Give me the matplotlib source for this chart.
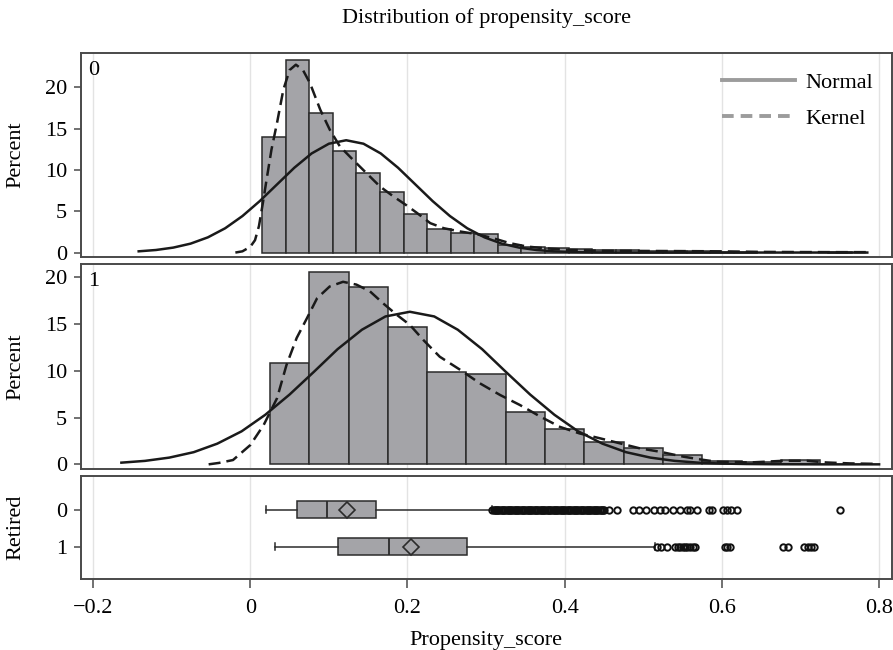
import matplotlib
matplotlib.use("Agg")
import matplotlib.pyplot as plt
from matplotlib.lines import Line2D

plt.rcParams['font.family'] = ['Liberation Serif', 'DejaVu Serif']
FS = 16
plt.rcParams['font.size'] = FS

# ---- Histogram, Retired = 0 (bin width 0.03) ----
bins0_mid = [0.03, 0.06, 0.09, 0.12, 0.15, 0.18, 0.21, 0.24, 0.27, 0.30, 0.33, 0.36,
             0.39, 0.42, 0.45, 0.48, 0.51, 0.54, 0.57, 0.60, 0.63, 0.75]
pct0 = [14.0, 23.35, 16.9, 12.3, 9.6, 7.3, 4.65, 2.87, 2.4, 2.25, 0.93, 0.73,
        0.5, 0.4, 0.3, 0.25, 0.2, 0.2, 0.15, 0.12, 0.05, 0.03]
width0 = 0.03

# ---- Histogram, Retired = 1 (bin width 0.05) ----
bins1_mid = [0.05, 0.10, 0.15, 0.20, 0.25, 0.30, 0.35, 0.40, 0.45, 0.50, 0.55, 0.60, 0.65, 0.70]
pct1 = [10.8, 20.6, 18.95, 14.7, 9.9, 9.6, 5.56, 3.74, 2.4, 1.7, 1.0, 0.35, 0.25, 0.5]
width1 = 0.05

# ---- Normal fit curves ----
norm0_x = [-0.142, -0.120, -0.098, -0.076, -0.054, -0.032, -0.010, 0.012, 0.034, 0.056,
           0.078, 0.100, 0.122, 0.144, 0.166, 0.188, 0.210, 0.232, 0.254, 0.276, 0.298,
           0.320, 0.342, 0.364, 0.386, 0.408, 0.430, 0.452, 0.474, 0.550, 0.650, 0.785]
norm0_y = [0.15, 0.31, 0.60, 1.08, 1.84, 2.94, 4.42, 6.23, 8.25, 10.27,
           12.00, 13.18, 13.60, 13.18, 12.00, 10.27, 8.25, 6.23, 4.42, 2.94, 1.84,
           1.08, 0.60, 0.31, 0.15, 0.07, 0.03, 0.012, 0.005, 0.0, 0.0, 0.0]

norm1_x = [-0.164, -0.134, -0.103, -0.072, -0.042, -0.011, 0.019, 0.050, 0.081, 0.111,
           0.142, 0.172, 0.203, 0.234, 0.264, 0.295, 0.325, 0.356, 0.387, 0.417, 0.448,
           0.478, 0.509, 0.540, 0.570, 0.601, 0.631, 0.662, 0.720, 0.800]
norm1_y = [0.18, 0.37, 0.72, 1.30, 2.21, 3.53, 5.29, 7.46, 9.89, 12.30,
           14.38, 15.80, 16.30, 15.80, 14.38, 12.30, 9.89, 7.46, 5.29, 3.53, 2.21,
           1.30, 0.72, 0.37, 0.18, 0.08, 0.036, 0.014, 0.0, 0.0]

# ---- Kernel density curves ----
kern0_x = [-0.019, -0.010, 0.000, 0.006, 0.011, 0.016, 0.021, 0.027, 0.034, 0.042,
           0.050, 0.058, 0.067, 0.076, 0.089, 0.101, 0.114, 0.131, 0.148, 0.165,
           0.182, 0.199, 0.212, 0.229, 0.246, 0.267, 0.288, 0.309, 0.330, 0.352,
           0.373, 0.403, 0.445, 0.490, 0.540, 0.598, 0.650, 0.700, 0.750, 0.790]
kern0_y = [0.0, 0.15, 0.7, 1.5, 3.2, 6.0, 9.0, 12.5, 15.7, 19.7,
           22.1, 22.75, 22.1, 20.5, 17.3, 14.9, 12.85, 11.2, 9.6, 8.0,
           6.8, 5.7, 4.8, 3.56, 2.95, 2.55, 2.23, 1.74, 1.14, 0.73,
           0.53, 0.33, 0.22, 0.2, 0.18, 0.15, 0.08, 0.06, 0.05, 0.05]

kern1_x = [-0.053, -0.040, -0.022, 0.000, 0.017, 0.034, 0.046, 0.059, 0.072, 0.085,
           0.101, 0.118, 0.135, 0.152, 0.169, 0.186, 0.203, 0.220, 0.241, 0.267,
           0.292, 0.318, 0.343, 0.369, 0.394, 0.419, 0.445, 0.470, 0.496, 0.521,
           0.551, 0.572, 0.593, 0.636, 0.678, 0.708, 0.733, 0.763, 0.797]
kern1_y = [0.0, 0.15, 0.46, 2.06, 4.2, 7.06, 10.6, 13.5, 15.6, 17.75,
           19.0, 19.5, 19.2, 18.5, 17.2, 16.0, 14.9, 13.3, 11.5, 10.1,
           8.66, 7.4, 6.34, 5.1, 4.0, 3.3, 2.78, 2.25, 1.7, 1.35,
           0.82, 0.53, 0.28, 0.2, 0.38, 0.38, 0.2, 0.1, 0.05]

# ---- Box plot summaries ----
groups = ["0", "1"]
whis_lo = [0.020, 0.031]
q1 = [0.060, 0.112]
median = [0.098, 0.176]
q3 = [0.160, 0.276]
whis_hi = [0.307, 0.515]
mean = [0.123, 0.204]
outliers0 = [0.3080, 0.3095, 0.3110, 0.3125, 0.3140, 0.3155, 0.3170, 0.3185, 0.3200, 0.3215,
             0.3230, 0.3245, 0.3260, 0.3275, 0.3290, 0.3305, 0.3320, 0.3335, 0.3350, 0.3365,
             0.3380, 0.3395, 0.3410, 0.3425, 0.3440, 0.3455, 0.3470, 0.3485, 0.3500, 0.3515,
             0.3530, 0.3545, 0.3560, 0.3575, 0.3590, 0.3605, 0.3620, 0.3635, 0.3650, 0.3665,
             0.3680, 0.3695, 0.3710, 0.3725, 0.3740, 0.3755, 0.3770, 0.3785, 0.3800, 0.3815,
             0.3830, 0.3845, 0.3860, 0.3875, 0.3890, 0.3905, 0.3920, 0.3935, 0.3950, 0.3965,
             0.3980, 0.3995, 0.4010, 0.4025, 0.4040, 0.4055, 0.4070, 0.4085, 0.4100, 0.4115,
             0.4130, 0.4145, 0.4160, 0.4175, 0.4190, 0.4205, 0.4220, 0.4235, 0.4250, 0.4265,
             0.4280, 0.4295, 0.4310, 0.4325, 0.4340, 0.4355, 0.4370, 0.4385, 0.4400, 0.4415,
             0.4430, 0.4445, 0.4460, 0.4475, 0.4490, 0.4505,
             0.456, 0.466, 0.487, 0.494, 0.504, 0.513, 0.521, 0.528, 0.538, 0.547,
             0.555, 0.559, 0.568, 0.583, 0.587, 0.602, 0.606, 0.612, 0.619, 0.750]
outliers1 = [0.517, 0.523, 0.530, 0.540, 0.544, 0.547, 0.550, 0.553, 0.556, 0.559,
             0.563, 0.566, 0.604, 0.607, 0.610, 0.678, 0.684, 0.705, 0.709, 0.713, 0.717]

xticks = [-0.2, 0.0, 0.2, 0.4, 0.6, 0.8]
xticklabels = ["\u22120.2", "0", "0.2", "0.4", "0.6", "0.8"]
pct_ticks = [0, 5, 10, 15, 20]

BAR_FILL = "#a4a4a8"
EDGE = "#2b2b2b"
FRAME = "#4a4a4a"
GRID = "#e3e3e3"
CURVE = "#1a1a1a"
LEGEND_GREY = "#9c9c9c"

fig = plt.figure(figsize=(8.93, 6.5), dpi=100)
L, W = 0.0907, 0.9078
ax1 = fig.add_axes([L, 0.6051, W, 0.3138])
ax2 = fig.add_axes([L, 0.2780, W, 0.3158], sharex=ax1)
ax3 = fig.add_axes([L, 0.1092, W, 0.1585], sharex=ax1)

YLAB_X = -0.069

for ax in (ax1, ax2, ax3):
    ax.set_xlim(-0.2154, 0.816)
    ax.set_xticks(xticks)
    ax.grid(axis="x", color=GRID, lw=1.0)
    ax.set_axisbelow(True)
    for s in ax.spines.values():
        s.set_color(FRAME)
        s.set_linewidth(1.4)
    ax.tick_params(axis="y", length=5, width=1.1, color=FRAME, pad=5, labelsize=FS)
for ax in (ax1, ax2):
    ax.tick_params(axis="x", length=0, labelbottom=False)

dash = (4.8, 2.4)

def hist_panel(ax, mids, pct, width, nx, ny, kx, ky, label):
    ax.bar(mids, pct, width=width, color=BAR_FILL, edgecolor=EDGE, linewidth=1.1, zorder=2)
    ax.plot(nx, ny, color=CURVE, lw=1.8, zorder=3, solid_joinstyle="round")
    ax.plot(kx, ky, color=CURVE, lw=1.8, zorder=3, dashes=dash)
    ax.set_yticks(pct_ticks)
    ax.set_ylabel("Percent")
    ax.yaxis.set_label_coords(YLAB_X, 0.5)
    ax.text(0.016, 0.915, label, transform=ax.transAxes, ha="center", va="center")

hist_panel(ax1, bins0_mid, pct0, width0, norm0_x, norm0_y, kern0_x, kern0_y, groups[0])
ax1.set_ylim(-0.5, 24.2)
hist_panel(ax2, bins1_mid, pct1, width1, norm1_x, norm1_y, kern1_x, kern1_y, groups[1])
ax2.set_ylim(-0.53, 21.4)

handles = [Line2D([], [], color=LEGEND_GREY, lw=2.8),
           Line2D([], [], color=LEGEND_GREY, lw=2.8, dashes=(3, 1.8))]
ax1.legend(handles, ["Normal", "Kernel"], loc="upper right", bbox_to_anchor=(0.977, 0.905),
           frameon=False, handlelength=3.25, handletextpad=0.48, labelspacing=0.72,
           borderaxespad=0, borderpad=0, fontsize=FS)

# ---- Box plots ----
stats = []
for i in range(2):
    stats.append(dict(med=median[i], q1=q1[i], q3=q3[i], whislo=whis_lo[i],
                      whishi=whis_hi[i], mean=mean[i],
                      fliers=outliers0 if i == 0 else outliers1))
ax3.bxp(stats, positions=[0, 1], widths=0.45, orientation="horizontal",
        showmeans=True, patch_artist=True, capwidths=0.2,
        boxprops=dict(facecolor=BAR_FILL, edgecolor=EDGE, linewidth=1.1),
        medianprops=dict(color=EDGE, linewidth=1.3),
        whiskerprops=dict(color=EDGE, linewidth=1.1),
        capprops=dict(color=EDGE, linewidth=1.1),
        meanprops=dict(marker="D", markersize=8, markerfacecolor=BAR_FILL,
                       markeredgecolor=EDGE, markeredgewidth=1.2),
        flierprops=dict(marker="o", markersize=4.6, markerfacecolor="none",
                        markeredgecolor="#111111", markeredgewidth=1.4))
ax3.set_ylim(1.87, -0.91)
ax3.set_yticks([0, 1])
ax3.set_yticklabels(groups)
ax3.set_ylabel("Retired")
ax3.yaxis.set_label_coords(YLAB_X, 0.5)
ax3.set_xticks(xticks)
ax3.set_xticklabels(xticklabels)
ax3.tick_params(axis="x", length=6.5, width=1.1, color=FRAME, pad=8, labelsize=FS)
ax3.set_xlabel("Propensity_score", labelpad=9)

fig.text(0.5449, 1 - 18 / 650, "Distribution of propensity_score", ha="center", va="center",
         fontsize=FS)

fig.savefig("out.png", dpi=100)
